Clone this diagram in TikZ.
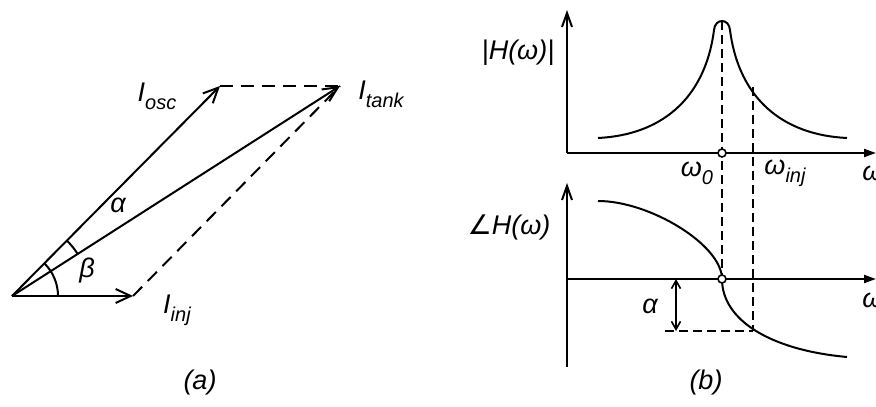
\documentclass[tikz,border=0pt]{standalone}
\usepackage{fontspec}
\setmainfont{Liberation Sans}
\newfontfamily\djfont{DejaVu Sans}
\usetikzlibrary{arrows.meta}
\newcommand\sbs[1]{\raisebox{-0.3em}{\fontsize{20}{20}\selectfont #1}}
\begin{document}
\begin{tikzpicture}[x=1pt,y=1pt,
  line width=2pt,
  lbl/.style={inner sep=0pt,font=\fontsize{27}{30}\selectfont\itshape},
  vec/.style={-{Straight Barb[length=15pt,width=14pt,line width=2pt]}},
  vax/.style={-{Straight Barb[length=14pt,width=10pt,line width=2pt]}},
  hax/.style={-{Triangle[length=12pt,width=8pt]}},
  dsha/.style={dash pattern=on 13pt off 8pt},
  dshb/.style={dash pattern=on 9pt off 5pt},
  dot/.style={circle,draw,fill=white,line width=1.6pt,minimum size=8pt,inner sep=0pt}]
\useasboundingbox (0,0) rectangle (876,407);
% ---- (a) ----
\coordinate (O) at (12,111);
\coordinate (Iosc) at (220,321);
\coordinate (Itank) at (340,321);
\coordinate (Iinj) at (133,111);
\draw[dsha] (Iosc) -- (Itank);
\draw[dsha] (Iinj) -- (Itank);
\draw[vec] (O) -- (Iosc);
\draw[vec] (O) -- (Itank);
\draw[vec] (O) -- (Iinj);
\draw (O) ++(32.6:78) arc[start angle=32.6,end angle=45.3,radius=78];
\draw (O) ++(0:46) arc[start angle=0,end angle=45.3,radius=46];
\node[lbl] (losc) at (157,311) {I\sbs{osc}};
\node[lbl] (ltank) at (381,313) {I\sbs{tank}};
\node[lbl] (linj) at (177,97) {I\sbs{inj}};
\node[lbl] (la) at (118,202) {α};
\node[lbl] (lb) at (87,136) {β};
\node[lbl] (capa) at (200,24) {(a)};
% ---- (b) ----
\coordinate (o1) at (567,254);
\coordinate (y1) at (567,397);
\coordinate (x1) at (876,254);
\coordinate (o2b) at (567,40);
\coordinate (y2) at (567,224);
\coordinate (o2) at (567,128);
\coordinate (x2) at (876,128);
\coordinate (pk) at (722,386);
\coordinate (mi) at (753,320);
\coordinate (w0b) at (722,128);
\coordinate (wib) at (753,76);
\coordinate (al1) at (676,128);
\coordinate (al2) at (676,76);
\coordinate (dl) at (665,76);
% dashed guides
\draw[dshb] (pk) -- (w0b);
\draw[dshb] (mi) -- (wib);
\draw[dshb] (dl) -- (wib);
% axes
\draw[vax] (o1) -- (y1);
\draw[hax] (o1) -- (x1);
\draw[vax] (o2b) -- (y2);
\draw[hax] (o2) -- (x2);
% magnitude curve
\draw (598,269) .. controls (660,272) and (705,307) .. (714,377)
  .. controls (715,389) and (729,389) .. (730,377)
  .. controls (739,307) and (784,272) .. (847,269);
% phase curve
\draw (598,206) .. controls (650,206) and (722,162) .. (722,128)
  .. controls (722,87) and (770,57) .. (847,50);
% alpha arrow
\draw[{Straight Barb[length=8pt,width=9pt,line width=1.6pt]}-{Straight Barb[length=8pt,width=9pt,line width=1.6pt]}] (al1) -- (al2);
\node[dot] (c1) at (722,254) {};
\node[dot] (c2) at (w0b) {};
\node[lbl] (lH) at (518,354) {|H(ω)|};
\node[lbl] (lP) at (509,180) {{\djfont\upshape ∠}H(ω)};
\node[lbl] (lw0) at (697,234) {ω\sbs{0}};
\node[lbl] (lwi) at (785,234) {ω\sbs{inj}};
\node[lbl] (lw1) at (873,234) {ω};
\node[lbl] (lw2) at (873,107) {ω};
\node[lbl] (lal) at (650,101) {α};
\node[lbl] (capb) at (706,24) {(b)};
\end{tikzpicture}
\end{document}
